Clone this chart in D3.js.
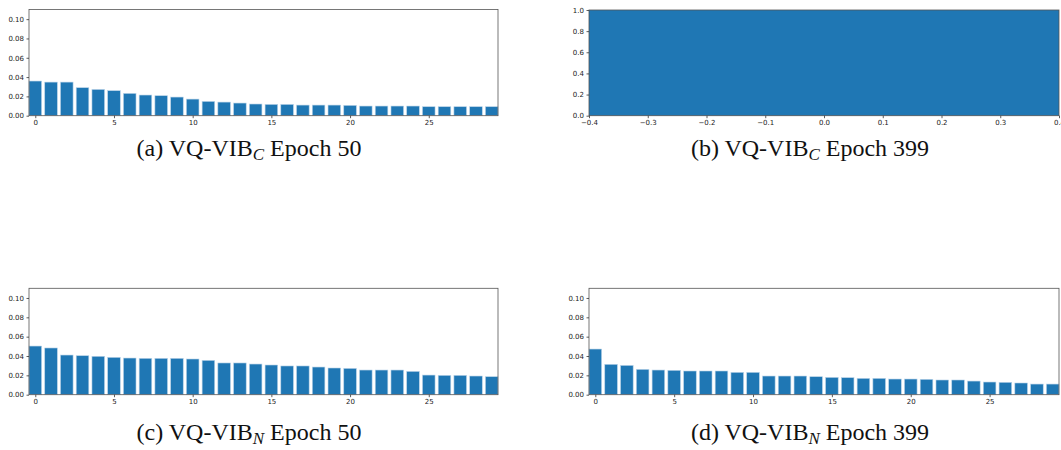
<!DOCTYPE html>
<html lang="en">
<head>
    <meta charset="UTF-8">
    <title>VQ-VIB codebook usage</title>
    <script src="https://d3js.org/d3.v7.min.js"></script>
    <style>
        body { margin: 0; background: #fff; }
        .tick text { font-family: "DejaVu Sans", sans-serif; font-size: 7px; fill: #222; }
        .tick line { stroke: #333; stroke-width: 0.8; }
        .caption { font-family: "Liberation Serif", "Times New Roman", serif; font-size: 24px; fill: #111; }
    </style>
</head>
<body>
    <div id="chart"></div>

    <script>
        // bar heights, index 0..29
        const probsA = [0.0359, 0.0348, 0.0348, 0.029, 0.0272, 0.0259, 0.0231, 0.0214, 0.0207, 0.0193,
                        0.0172, 0.0148, 0.0141, 0.0131, 0.0121, 0.0117, 0.0117, 0.011, 0.011, 0.011,
                        0.0107, 0.010, 0.010, 0.010, 0.010, 0.0093, 0.0093, 0.0093, 0.0093, 0.0093];
        const probsB = [1.0];
        const probsC = [0.0503, 0.0483, 0.041, 0.0403, 0.0397, 0.0386, 0.0379, 0.0376, 0.0376, 0.0376,
                        0.0369, 0.0355, 0.0328, 0.0328, 0.0317, 0.0307, 0.0297, 0.0297, 0.0286, 0.0276,
                        0.0272, 0.0255, 0.0255, 0.0255, 0.0241, 0.0203, 0.020, 0.020, 0.0193, 0.0186];
        const probsD = [0.0472, 0.0314, 0.0303, 0.0262, 0.0255, 0.0252, 0.0245, 0.0245, 0.0245, 0.0231,
                        0.0231, 0.0193, 0.0193, 0.0193, 0.0186, 0.0179, 0.0176, 0.0169, 0.0169, 0.0162,
                        0.0162, 0.0159, 0.0152, 0.0152, 0.0141, 0.0131, 0.0128, 0.0121, 0.011, 0.011];

        const captionLabels = ["(a)", "(b)", "(c)", "(d)"];
        const captionSubs = ["C", "C", "N", "N"];
        const captionEpochs = ["Epoch 50", "Epoch 399", "Epoch 50", "Epoch 399"];

        const codeTicks = [0, 5, 10, 15, 20, 25];
        const probTicks = [0, 0.02, 0.04, 0.06, 0.08, 0.10];
        const singleXTicks = [-0.4, -0.3, -0.2, -0.1, 0, 0.1, 0.2, 0.3, 0.4];
        const singleYTicks = [0, 0.2, 0.4, 0.6, 0.8, 1.0];

        const width = 1061, height = 450;
        const blue = "#1f77b4";

        const svg = d3.select("#chart").append("svg")
            .attr("width", width)
            .attr("height", height);

        const panels = [
            {data: probsA, box: [29, 498, 9.5, 115.7], capX: 249, capY: 156},
            {data: probsB, box: [589, 1059, 10, 115.7], capX: 810, capY: 156, single: true},
            {data: probsC, box: [29, 498, 288.3, 394.7], capX: 249, capY: 440},
            {data: probsD, box: [589, 1059, 288.3, 394.7], capX: 810, capY: 440}
        ];

        panels.forEach((p, k) => {
            const [x0, x1, y0, y1] = p.box;
            const g = svg.append("g");

            let x, y, xTicks, yTicks, xFmt, yFmt, bars;
            if (p.single) {
                x = d3.scaleLinear().domain([-0.4, 0.4]).range([x0, x1]);
                y = d3.scaleLinear().domain([0, 1]).range([y1, y0]);
                xTicks = singleXTicks; yTicks = singleYTicks;
                xFmt = d3.format(".1f"); yFmt = d3.format(".1f");
                bars = p.data.map((v, i) => ({c: 0, v: v}));
            } else {
                x = d3.scaleLinear().domain([-0.4, 29.4]).range([x0, x1]);
                y = d3.scaleLinear().domain([0, 0.11]).range([y1, y0]);
                xTicks = codeTicks; yTicks = probTicks;
                xFmt = d3.format("d"); yFmt = d3.format(".2f");
                bars = p.data.map((v, i) => ({c: i, v: v}));
            }

            g.selectAll(".bar")
                .data(bars)
                .join("rect")
                .attr("class", "bar")
                .attr("x", d => x(d.c - 0.4))
                .attr("width", d => x(d.c + 0.4) - x(d.c - 0.4))
                .attr("y", d => y(d.v))
                .attr("height", d => y(0) - y(d.v))
                .attr("fill", blue)
                .attr("stroke", p.single ? "none" : "#b9d3e8")
                .attr("stroke-width", 0.6);

            // frame
            g.append("rect")
                .attr("x", x0).attr("y", y0)
                .attr("width", x1 - x0).attr("height", y1 - y0)
                .attr("fill", "none")
                .attr("stroke", "#555")
                .attr("stroke-width", 0.8);

            const xAxis = g.append("g")
                .attr("transform", `translate(0,${y1})`)
                .call(d3.axisBottom(x).tickValues(xTicks).tickFormat(xFmt).tickSize(2.5).tickPadding(2));
            xAxis.select(".domain").remove();

            const yAxis = g.append("g")
                .attr("transform", `translate(${x0},0)`)
                .call(d3.axisLeft(y).tickValues(yTicks).tickFormat(yFmt).tickSize(2.5).tickPadding(2.5));
            yAxis.select(".domain").remove();

            // caption under each subplot
            const cap = svg.append("text")
                .attr("class", "caption")
                .attr("x", p.capX)
                .attr("y", p.capY)
                .attr("text-anchor", "middle");
            cap.append("tspan").text(captionLabels[k] + " VQ-VIB");
            cap.append("tspan")
                .attr("font-style", "italic")
                .attr("font-size", "17px")
                .attr("dy", 4)
                .text(captionSubs[k]);
            cap.append("tspan")
                .attr("dy", -4)
                .text(" " + captionEpochs[k]);
        });
    </script>
</body>
</html>
